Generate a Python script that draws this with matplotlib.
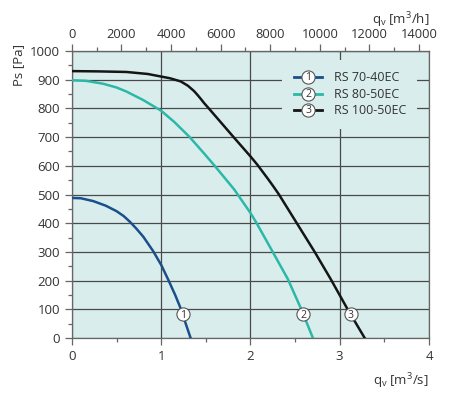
import numpy as np
import matplotlib
matplotlib.use('Agg')
import matplotlib.pyplot as plt
from matplotlib.lines import Line2D
from matplotlib.legend_handler import HandlerBase
from matplotlib.ticker import MultipleLocator, FixedLocator

plt.rcParams['font.family'] = ['Open Sans', 'DejaVu Sans']
plt.rcParams['mathtext.fontset'] = 'custom'
plt.rcParams['mathtext.rm'] = 'Open Sans'
plt.rcParams['mathtext.it'] = 'Open Sans'

# fan curves: airflow q [m3/s] vs static pressure [Pa]
q1 = [0, 0.1, 0.24, 0.38, 0.5, 0.58, 0.65, 0.72, 0.8, 0.91, 1.0, 1.08, 1.16, 1.22, 1.27, 1.33]
p1 = [488, 487, 477, 461, 442, 425, 405, 382, 353, 303, 255, 203, 148, 102, 55, 0]

q2 = [0, 0.16, 0.35, 0.5, 0.61, 0.8, 1.0, 1.15, 1.32, 1.47, 1.6, 1.82, 2.0, 2.07, 2.25, 2.42, 2.57, 2.70]
p2 = [898, 896, 886, 873, 859, 829, 792, 752, 700, 647, 600, 517, 436, 400, 300, 205, 100, 0]

q3 = [0, 0.3, 0.61, 0.85, 1.0, 1.1, 1.22, 1.3, 1.37, 1.41, 1.45, 1.48, 1.52, 1.67, 1.82, 2.0,
      2.08, 2.14, 2.2, 2.26, 2.32, 2.52, 2.72, 2.90, 3.08, 3.28]
p3 = [930, 929, 927, 920, 911, 905, 894, 879, 860, 846, 831, 819, 805, 751, 697, 633,
      603, 578, 553, 527, 500, 400, 300, 205, 105, 0]

# top axis ticks in m3/h
qh_ticks = [0, 2000, 4000, 6000, 8000, 10000, 12000, 14000]
qh_minor = [1000, 3000, 5000, 7000, 9000, 11000, 13000]

names = ['RS 70-40EC', 'RS 80-50EC', 'RS 100-50EC']
numbers = ['1', '2', '3']
colors = ['#1b4f8c', '#2cb8a8', '#151515']
label_pa = 82  # pressure where the circled numbers sit

bg = '#d9eeec'
txt = '#333333'
grid_c = '#4a4a4a'


class CircleNumHandler(HandlerBase):
    def __init__(self, num):
        super().__init__()
        self.num = num

    def create_artists(self, legend, orig_handle, xdescent, ydescent,
                       width, height, fontsize, trans):
        y = height / 2 - ydescent
        line = Line2D([-xdescent, width - xdescent], [y, y],
                      color=orig_handle.get_color(), lw=2.0, transform=trans)
        circ = Line2D([width / 2 - xdescent], [y], marker='o', markersize=9.5,
                      markerfacecolor='white', markeredgecolor='#555555',
                      markeredgewidth=0.8, transform=trans)
        t = plt.Text(width / 2 - xdescent, y - 0.5, self.num, ha='center', va='center',
                     fontsize=7.5, color=txt, transform=trans)
        return [line, circ, t]


fig = plt.figure(figsize=(4.52, 3.97), dpi=100)
ax = fig.add_axes([0.159, 0.1486, 0.79, 0.7229])
ax.set_facecolor(bg)

handles = []
for q, p, c, n, num in zip([q1, q2, q3], [p1, p2, p3], colors, names, numbers):
    h, = ax.plot(q, p, color=c, lw=1.8, label=n, zorder=3, solid_joinstyle='round')
    handles.append(h)
    qm = np.interp(label_pa, p[::-1], q[::-1])
    ax.plot(qm, label_pa, marker='o', markersize=9.5, markerfacecolor='white',
            markeredgecolor='#555555', markeredgewidth=0.8, zorder=4)
    ax.text(qm, label_pa - 3, num, ha='center', va='center', fontsize=7.5,
            color=txt, zorder=5)

ax.set_xlim(0, 4)
ax.set_ylim(0, 1000)
ax.xaxis.set_major_locator(MultipleLocator(1))
ax.xaxis.set_minor_locator(MultipleLocator(0.5))
ax.yaxis.set_major_locator(MultipleLocator(100))
ax.yaxis.set_minor_locator(MultipleLocator(50))
ax.grid(which='major', color=grid_c, lw=0.9)
ax.set_axisbelow(True)

for s in ax.spines.values():
    s.set_color('#666666')
    s.set_linewidth(0.9)

ax.tick_params(which='both', direction='out', colors='#666666', labelcolor=txt,
               labelsize=9.5, width=0.9)
ax.tick_params(which='major', length=5)
ax.tick_params(which='minor', length=3)

sec = ax.secondary_xaxis('top', functions=(lambda q: q * 3600, lambda h: h / 3600))
sec.xaxis.set_major_locator(FixedLocator(qh_ticks))
sec.xaxis.set_minor_locator(FixedLocator(qh_minor))
sec.tick_params(which='both', direction='out', colors='#666666', labelcolor=txt,
                labelsize=9.3, width=0.9, pad=2)
sec.tick_params(which='major', length=5)
sec.tick_params(which='minor', length=3)
sec.spines['top'].set_color('#666666')
sec.set_xlabel(r'q$_\mathrm{v}$ [m$^3$/h]', loc='right', fontsize=9.5, color=txt, labelpad=3)

ax.set_xlabel(r'q$_\mathrm{v}$ [m$^3$/s]', fontsize=9.5, color=txt)
ax.xaxis.set_label_coords(0.92, -0.115)
ax.set_ylabel('Ps [Pa]', fontsize=9.5, color=txt)
ax.yaxis.set_label_coords(-0.132, 0.951)

leg = ax.legend(handles=handles, labels=names, loc='upper right',
                bbox_to_anchor=(0.985, 0.99),
                handler_map={h: CircleNumHandler(num) for h, num in zip(handles, numbers)},
                fontsize=9, handlelength=2.3, handletextpad=0.9, labelspacing=0.28,
                borderpad=0.9, frameon=True, fancybox=False)
leg.get_frame().set_facecolor(bg)
leg.get_frame().set_edgecolor('none')
leg.get_frame().set_alpha(1)
for t in leg.get_texts():
    t.set_color(txt)

fig.savefig('out.png', dpi=100)
